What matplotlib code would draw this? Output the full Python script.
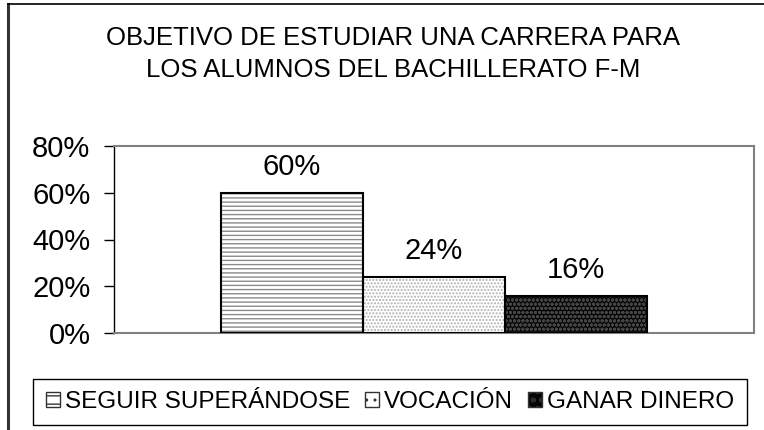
import matplotlib.pyplot as plt
from matplotlib.patches import Patch
from matplotlib.lines import Line2D

# datos del grafico
categorias = ['SEGUIR SUPERÁNDOSE', 'VOCACIÓN', 'GANAR DINERO']
valores = [60, 24, 16]
etiquetas = ['60%', '24%', '16%']
ticks_y = [0, 20, 40, 60, 80]

plt.rcParams['font.family'] = ['Liberation Sans', 'DejaVu Sans']
plt.rcParams['hatch.linewidth'] = 1.0

fig = plt.figure(figsize=(7.64, 4.30), dpi=100)
ax = fig.add_axes([114 / 764, 1 - 333 / 430, 640 / 764, 187 / 430])

# estilos: relleno, color de trama, trama
fondos = ['white', 'white', '#050505']
tramas_color = ['#8a8a8a', '#b0b0b0', '#454545']
tramas = ['----', '.....', 'oooo']

x = list(range(len(valores)))
for i in x:
    ax.bar(i, valores[i], width=1.0, color=fondos[i], edgecolor=tramas_color[i],
           hatch=tramas[i], linewidth=0, zorder=2)
    ax.bar(i, valores[i], width=1.0, fill=False, edgecolor='black', linewidth=1.5, zorder=3)
    ax.annotate(etiquetas[i], (i, valores[i]), xytext=(0, 13), textcoords='offset points',
                ha='center', va='baseline', fontsize=21)

ax.set_xlim(-1.25, 3.25)
ax.set_ylim(0, 80)
ax.set_yticks(ticks_y)
ax.set_yticklabels([f'{t}%' for t in ticks_y], fontsize=21)
ax.set_xticks([])
ax.tick_params(axis='y', length=7, width=1, pad=10, direction='out')

for s in ['top', 'right', 'bottom']:
    ax.spines[s].set_color('#808080')
    ax.spines[s].set_linewidth(1.5)
ax.spines['left'].set_color('black')
ax.spines['left'].set_linewidth(1)

# titulo
fig.text(0.514, 0.874, 'OBJETIVO DE ESTUDIAR UNA CARRERA PARA\nLOS ALUMNOS DEL BACHILLERATO F-M',
         ha='center', va='center', fontsize=18.5, linespacing=1.4)

# leyenda
manejadores = [Patch(facecolor=fondos[i], edgecolor='#333333', hatch=tramas[i][:2], linewidth=1)
               for i in x]
leg = fig.legend(manejadores, categorias, loc='center', ncol=3,
                 bbox_to_anchor=(390 / 764, 1 - 402 / 430), fontsize=17.5,
                 fancybox=False, edgecolor='black', framealpha=1,
                 handlelength=0.6, handleheight=0.6, handletextpad=0.2,
                 columnspacing=0.6, borderpad=0.5, borderaxespad=0)
leg.get_frame().set_linewidth(1)

# borde del area del grafico (solo visible arriba y a la izquierda)
fig.add_artist(Line2D([8 / 764, 8 / 764], [0, 1 - 4 / 430], color='#333333', linewidth=2.2,
                      transform=fig.transFigure))
fig.add_artist(Line2D([8 / 764, 1], [1 - 4 / 430, 1 - 4 / 430], color='black', linewidth=1.2,
                      transform=fig.transFigure))

fig.savefig('out.png', dpi=100)
